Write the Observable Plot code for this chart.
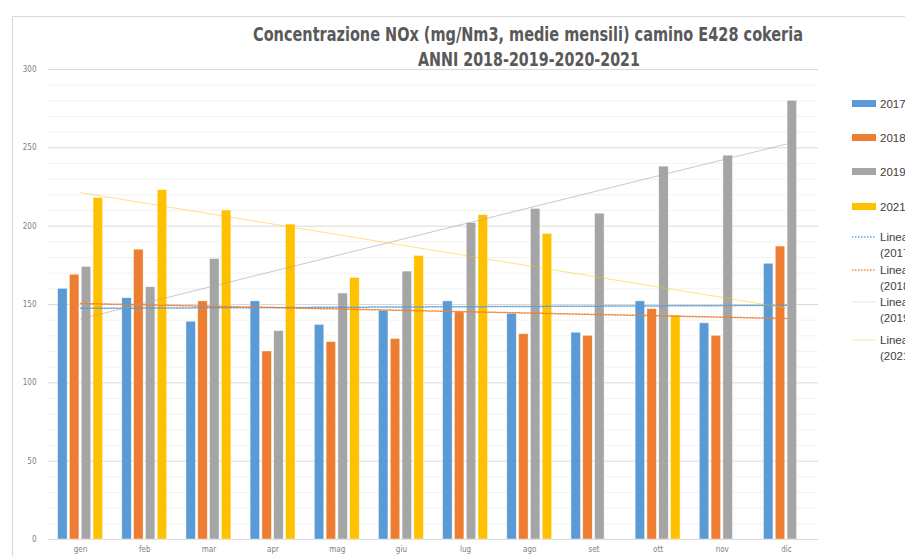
<!DOCTYPE html>
<html>
<head>
<meta charset="utf-8">
<script src="https://cdn.jsdelivr.net/npm/d3@7"></script>
<script src="https://cdn.jsdelivr.net/npm/@observablehq/plot@0.6"></script>
<style>
  html, body { margin: 0; padding: 0; background: #fff; overflow: hidden; }
  #wrap { position: relative; width: 905px; height: 556px; font-family: "DejaVu Sans Condensed", "Liberation Sans", sans-serif; }
  #frame { position: absolute; left: 12px; top: 16px; width: 1000px; height: 1000px; border-top: 1px solid #d9d9d9; border-left: 1px solid #d9d9d9; }
  .title { position: absolute; white-space: nowrap; font-weight: bold; font-size: 19px; color: #595959; transform-origin: 0 0; }
  #legend { position: absolute; left: 852px; top: 0; font-size: 11.5px; color: #404040; font-family: "Liberation Sans", Arial, sans-serif; }
  .li { position: absolute; left: 0; white-space: nowrap; display: flex; align-items: flex-start; }
  .sw { width: 24px; height: 7px; margin-right: 4px; }
  .lt { line-height: 16px; }
  #chart { position: absolute; left: 0; top: 0; }
</style>
</head>
<body>
<div id="wrap">
  <div id="frame"></div>
  <div id="chart"></div>
  <div class="title" id="t1" style="top:23px">Concentrazione NOx (mg/Nm3, medie mensili) camino E428 cokeria</div>
  <div class="title" id="t2" style="top:48px">ANNI 2018-2019-2020-2021</div>
  <div id="legend"></div>
</div>
<script>
const months = ["gen","feb","mar","apr","mag","giu","lug","ago","set","ott","nov","dic"];
const years = ["2017","2018","2019","2021"];
const colors = ["#5B9BD5","#ED7D31","#A5A5A5","#FFC000"];
const v2017 = [160,154,139,152,137,146,152,144,132,152,138,176];
const v2018 = [169,185,152,120,126,128,145,131,130,147,130,187];
const v2019 = [174,161,179,133,157,171,202,211,208,238,245,280];
const v2021 = [218,223,210,201,167,181,207,195,null,143,null,null];
const yTicks = [0,50,100,150,200,250,300];

const series = [v2017, v2018, v2019, v2021];
const rows = [];
series.forEach((vals, k) => vals.forEach((v, i) => {
  if (v != null) rows.push({month: months[i], i: i + 1, k, year: years[k], value: v});
}));

// Excel-style linear trendlines (least squares over category index), spanning all months
const trends = [];
series.forEach((vals, k) => {
  const pts = vals.map((v, i) => [i + 1, v]).filter(p => p[1] != null);
  const mx = d3.mean(pts, p => p[0]), my = d3.mean(pts, p => p[1]);
  const b = d3.sum(pts, p => (p[0] - mx) * (p[1] - my)) / d3.sum(pts, p => (p[0] - mx) ** 2);
  const a = my - b * mx;
  [1, months.length].forEach(x => trends.push({k, year: years[k], x, y: a + b * x}));
});

const step = 0.184, w = 0.148;
const minor = d3.range(0, 301, 10).filter(t => t % 50 !== 0);

const chart = Plot.plot({
  width: 905,
  height: 556,
  marginTop: 69,
  marginBottom: 17,
  marginLeft: 48,
  marginRight: 87,
  style: {fontFamily: "'DejaVu Sans Condensed',sans-serif", fontSize: "8px", color: "#7f7f7f", background: "transparent"},
  x: {domain: [0.5, 12.5], ticks: d3.range(1, 13), tickFormat: d => months[d - 1], tickSize: 0, tickPadding: 7, label: null},
  y: {domain: [0, 300], ticks: yTicks, tickSize: 0, tickPadding: 12, label: null},
  marks: [
    Plot.ruleY(minor, {stroke: "#f2f2f2", strokeWidth: 1}),
    Plot.ruleY(yTicks.filter(t => t > 0), {stroke: "#d9d9d9", strokeWidth: 1}),
    Plot.ruleY([0], {stroke: "#d9d9d9", strokeWidth: 1}),
    Plot.rectY(rows, {
      x1: d => d.i + (d.k - 1.5) * step - w / 2,
      x2: d => d.i + (d.k - 1.5) * step + w / 2,
      y1: 0, y2: "value",
      fill: d => colors[d.k],
      stroke: "#ffffff", strokeWidth: 0.6, strokeOpacity: 0.7
    }),
    Plot.line(trends.filter(d => d.k === 0), {x: "x", y: "y", stroke: colors[0], strokeWidth: 1.5, strokeDasharray: "1.5,1.5", strokeOpacity: 0.9}),
    Plot.line(trends.filter(d => d.k === 1), {x: "x", y: "y", stroke: colors[1], strokeWidth: 1.5, strokeDasharray: "1.5,1.5", strokeOpacity: 0.9}),
    Plot.line(trends.filter(d => d.k === 2), {x: "x", y: "y", stroke: colors[2], strokeWidth: 0.8, strokeOpacity: 0.75}),
    Plot.line(trends.filter(d => d.k === 3), {x: "x", y: "y", stroke: colors[3], strokeWidth: 0.8, strokeOpacity: 0.6})
  ]
});
document.getElementById("chart").appendChild(chart);

// Fit titles to the reference's width (condensed look)
function fit(id, left, width) {
  const el = document.getElementById(id);
  const wNat = el.getBoundingClientRect().width;
  const s = width / wNat;
  el.style.left = left + "px";
  el.style.transform = `scaleX(${s})`;
}
fit("t1", 253, 550);
fit("t2", 418, 222);

// Legend
const legend = document.getElementById("legend");
const barTops = [96, 130, 164, 199];
years.forEach((y, k) => {
  const el = document.createElement("div");
  el.className = "li";
  el.style.top = barTops[k] + "px";
  el.innerHTML = `<div class="sw" style="background:${colors[k]};margin-top:4px"></div><div class="lt">${y}</div>`;
  legend.appendChild(el);
});
const lineTops = [229, 262, 294, 332];
const lineStyles = [
  {c: colors[0], w: 1.5, d: "1.5,1.5", o: 0.9},
  {c: colors[1], w: 1.5, d: "1.5,1.5", o: 0.9},
  {c: "#e6e6e6", w: 1, d: "", o: 1},
  {c: "#ffe4a0", w: 1, d: "", o: 1}
];
years.forEach((y, k) => {
  const s = lineStyles[k];
  const el = document.createElement("div");
  el.className = "li";
  el.style.top = lineTops[k] + "px";
  el.innerHTML = `<svg width="28" height="16" style="flex:none"><line x1="0" x2="24" y1="8" y2="8" stroke="${s.c}" stroke-width="${s.w}" stroke-dasharray="${s.d}" stroke-opacity="${s.o}"/></svg><div class="lt">Linear<br>(${y})</div>`;
  legend.appendChild(el);
});
</script>
</body>
</html>
